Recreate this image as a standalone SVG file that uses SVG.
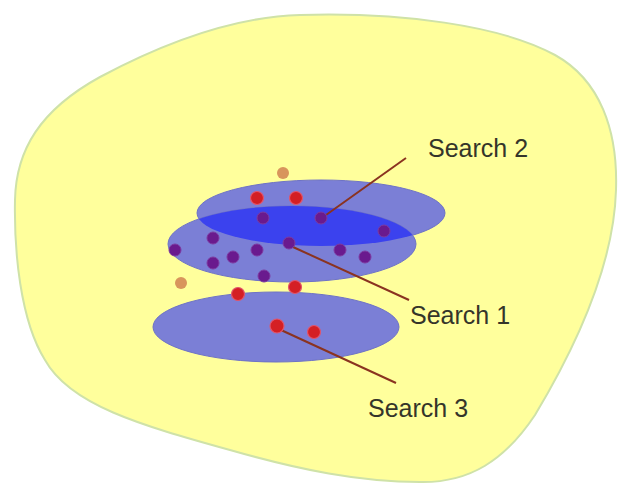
<svg xmlns="http://www.w3.org/2000/svg" width="619" height="486" viewBox="0 0 619 486">
  <style>
    .region { fill: #7b7fd6; stroke: #6e72c6; stroke-width: 1; }
    .overlap { fill: #3b42ee; }
    .red { fill: #d41f24; stroke: #e0566e; stroke-width: 1.2; }
    .purple { fill: #6a1a8e; stroke: #7d3aa0; stroke-width: 1; }
    .orange { fill: #d8955c; }
    .conn { stroke: #8a3320; stroke-width: 2; fill: none; }
    .label { font-family: "Liberation Sans", Arial, sans-serif; font-size: 25px; fill: #35352a; }
  </style>
  <defs>
    <clipPath id="clipTop">
      <ellipse cx="321" cy="213" rx="124" ry="33"/>
    </clipPath>
  </defs>
  <rect width="619" height="486" fill="#ffffff"/>
  <g id="space">
    <path d="M 300,15 C 400,12 500,25 555,55 C 600,80 618,130 616,190 C 614,260 580,340 535,415 C 505,460 470,483 420,482 C 360,482 300,470 230,450 C 140,425 70,405 45,360 C 20,320 14,250 15,200 C 16,150 40,110 100,77 C 160,45 230,17 300,15 Z" fill="#ffff9c" stroke="#cfe2a8" stroke-width="2"/>
  </g>
  <g id="search2-region">
    <ellipse class="region" cx="321" cy="213" rx="124" ry="33"/>
  </g>
  <g id="search1-region">
    <ellipse class="region" cx="292" cy="244" rx="124" ry="38"/>
    <ellipse class="overlap" cx="292" cy="244" rx="124" ry="38" clip-path="url(#clipTop)"/>
  </g>
  <g id="search3-region">
    <ellipse class="region" cx="276" cy="327" rx="123" ry="35"/>
  </g>
  <g id="connectors">
    <line class="conn" x1="406" y1="158" x2="326" y2="215"/>
    <line class="conn" x1="293" y1="247" x2="409" y2="300"/>
    <line class="conn" x1="281" y1="330" x2="396" y2="383"/>
  </g>
  <g id="points">
    <circle class="orange" cx="283" cy="173" r="6"/>
    <circle class="orange" cx="181" cy="283" r="6"/>
    <circle class="red" cx="257" cy="198" r="6.5"/>
    <circle class="red" cx="296" cy="198" r="6.5"/>
    <circle class="red" cx="238" cy="294" r="6.5"/>
    <circle class="red" cx="295" cy="287" r="6.5"/>
    <circle class="red" cx="277" cy="326" r="7"/>
    <circle class="red" cx="314" cy="332" r="6.5"/>
    <circle class="purple" cx="263" cy="218" r="6"/>
    <circle class="purple" cx="321" cy="218" r="6"/>
    <circle class="purple" cx="384" cy="231" r="6"/>
    <circle class="purple" cx="213" cy="238" r="6"/>
    <circle class="purple" cx="175" cy="250" r="6"/>
    <circle class="purple" cx="257" cy="250" r="6"/>
    <circle class="purple" cx="289" cy="243" r="6"/>
    <circle class="purple" cx="340" cy="250" r="6"/>
    <circle class="purple" cx="365" cy="257" r="6"/>
    <circle class="purple" cx="213" cy="263" r="6"/>
    <circle class="purple" cx="233" cy="257" r="6"/>
    <circle class="purple" cx="264" cy="276" r="6"/>
  </g>
  <g id="label-search2"><text class="label" x="428" y="157">Search 2</text></g>
  <g id="label-search1"><text class="label" x="410" y="324">Search 1</text></g>
  <g id="label-search3"><text class="label" x="368" y="417">Search 3</text></g>
</svg>
